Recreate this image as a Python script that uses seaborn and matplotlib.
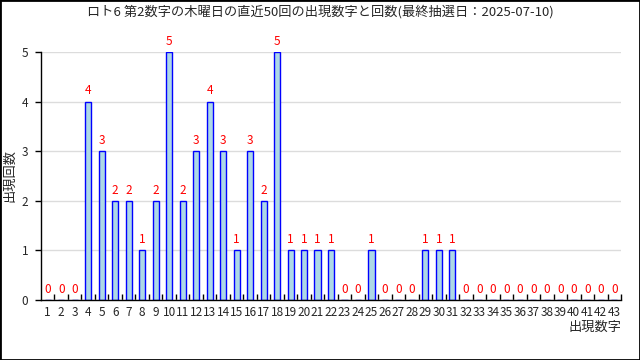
import matplotlib
matplotlib.use("Agg")
import matplotlib.pyplot as plt
import seaborn as sns
import pandas as pd
from matplotlib.patches import Rectangle
from matplotlib.ticker import FixedLocator

numbers = [str(i) for i in range(1, 44)]
counts = [0, 0, 0, 4, 3, 2, 2, 1, 2, 5,
          2, 3, 4, 3, 1, 3, 2, 5, 1, 1,
          1, 1, 0, 0, 1, 0, 0, 0, 1, 1,
          1, 0, 0, 0, 0, 0, 0, 0, 0, 0,
          0, 0, 0]
title = "ロト6 第2数字の木曜日の直近50回の出現数字と回数(最終抽選日：2025-07-10)"
xlabel = "出現数字"
ylabel = "出現回数"

sns.set_theme(style="white")
plt.rcParams['font.family'] = ['Noto Sans CJK JP', 'DejaVu Sans']

df = pd.DataFrame({"num": numbers, "count": counts})

fig = plt.figure(figsize=(6.4, 3.6), dpi=100)
ax = fig.add_axes([41/640, 1-300/360, 580/640, 248/360])

sns.barplot(data=df, x="num", y="count", order=numbers, ax=ax,
            color="#add8e6", edgecolor="blue", linewidth=1, width=0.45,
            saturation=1)

for c in ax.containers:
    ax.bar_label(c, padding=3, color="red", fontsize=8.5)

ax.set_xlim(-0.5, len(numbers) - 0.5)
ax.set_ylim(0, 5)
ax.set_yticks([0, 1, 2, 3, 4, 5])
ax.yaxis.grid(True, color="#dcdcdc", linewidth=1)
ax.set_axisbelow(True)
for s in ["top", "right"]:
    ax.spines[s].set_visible(False)
for s in ["left", "bottom"]:
    ax.spines[s].set_color("black")
    ax.spines[s].set_linewidth(1)

ax.tick_params(axis="y", which="major", left=True, length=4, width=1,
               color="black", labelsize=8.5, pad=5)
ax.tick_params(axis="x", which="major", bottom=False, length=0,
               labelsize=8.5, pad=4)
ax.xaxis.set_minor_locator(FixedLocator([i + 0.5 for i in range(len(numbers))]))
ax.tick_params(axis="x", which="minor", bottom=True, direction="in",
               length=4, width=1, color="black")

ax.set_xlabel("")
ax.set_ylabel("")
fig.text(621/640, 1-327/360, xlabel, ha="right", va="center", fontsize=9.5)
fig.text(10/640, 1-176/360, ylabel, ha="center", va="center",
         rotation=90, fontsize=9.5)
fig.text(0.5, 1-12/360, title, ha="center", va="center", fontsize=9.5)

fig.patches.append(Rectangle((0, 0), 1, 1, transform=fig.transFigure,
                             fill=False, edgecolor="black", linewidth=2))

fig.savefig("out.png", dpi=100)
